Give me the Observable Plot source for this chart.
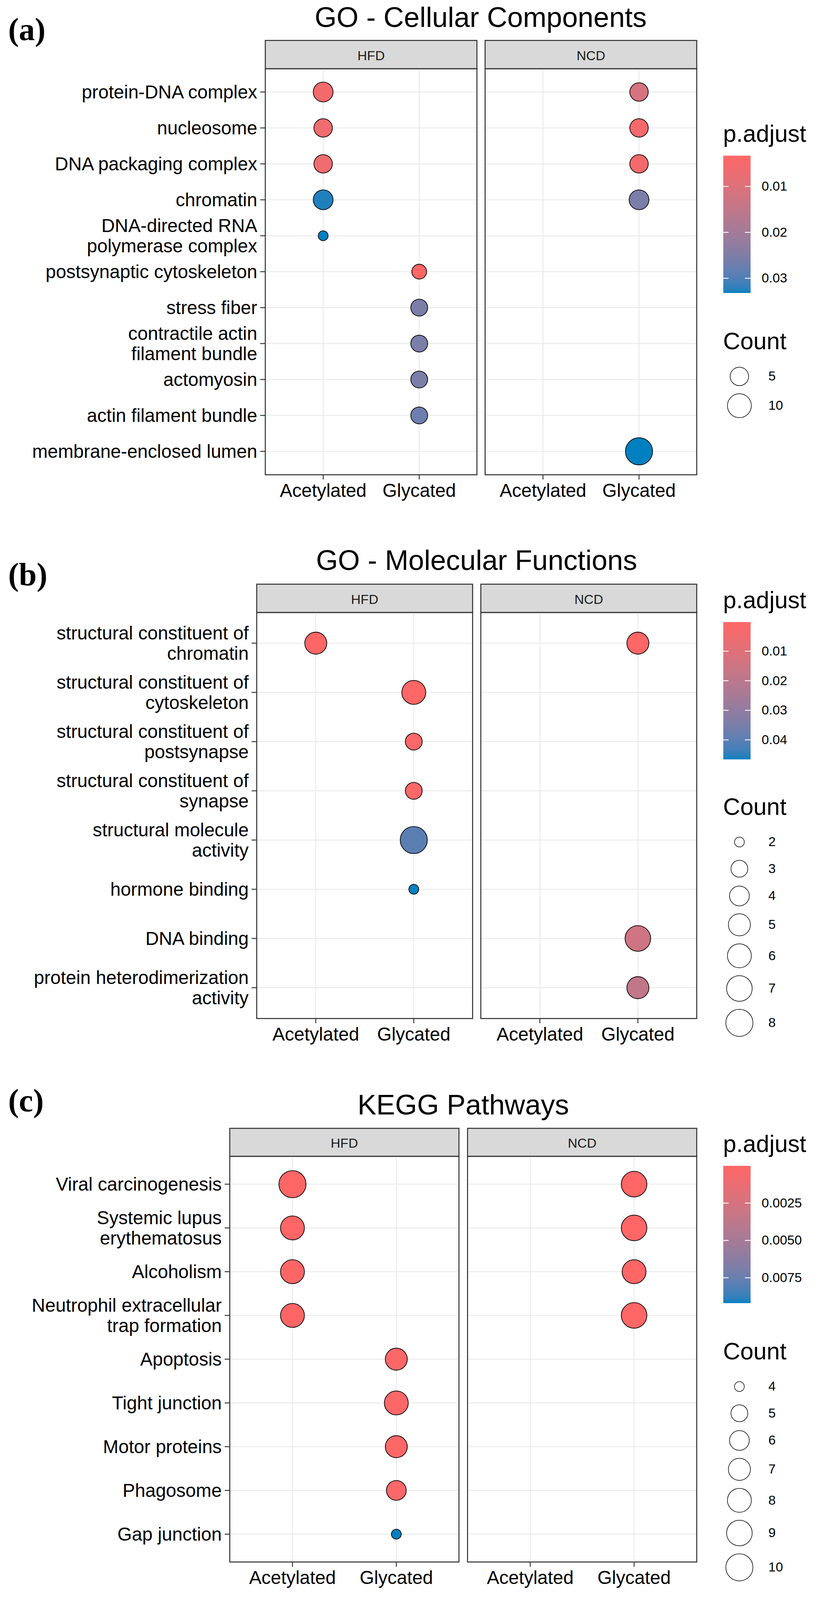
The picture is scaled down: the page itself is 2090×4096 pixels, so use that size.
<!DOCTYPE html>
<html>
<head>
<meta charset="utf-8">
<script src="https://cdn.jsdelivr.net/npm/d3@7"></script>
<script src="https://cdn.jsdelivr.net/npm/@observablehq/plot@0.6"></script>
<style>
  html, body { margin: 0; padding: 0; background: #ffffff; }
  #root { position: relative; width: 2090px; height: 4096px; overflow: hidden; background: #ffffff; }
  #root svg { position: absolute; }
</style>
</head>
<body>
<div id="root"></div>
<script>
// ================= DATA =================
const diets = ["HFD", "NCD"];
const mods = ["Acetylated", "Glycated"];

// ---- (a) GO - Cellular Components
const ccTerms = ["protein-DNA complex", "nucleosome", "DNA packaging complex", "chromatin",
  "DNA-directed RNA polymerase complex", "postsynaptic cytoskeleton", "stress fiber",
  "contractile actin filament bundle", "actomyosin", "actin filament bundle", "membrane-enclosed lumen"];
const ccTickLabels = ["protein-DNA complex", "nucleosome", "DNA packaging complex", "chromatin",
  "DNA-directed RNA\npolymerase complex", "postsynaptic cytoskeleton", "stress fiber",
  "contractile actin\nfilament bundle", "actomyosin", "actin filament bundle", "membrane-enclosed lumen"];
const ccTerm = ["protein-DNA complex", "nucleosome", "DNA packaging complex", "chromatin",
  "DNA-directed RNA polymerase complex", "postsynaptic cytoskeleton", "stress fiber",
  "contractile actin filament bundle", "actomyosin", "actin filament bundle",
  "protein-DNA complex", "nucleosome", "DNA packaging complex", "chromatin", "membrane-enclosed lumen"];
const ccDiet = ["HFD", "HFD", "HFD", "HFD", "HFD", "HFD", "HFD", "HFD", "HFD", "HFD", "NCD", "NCD", "NCD", "NCD", "NCD"];
const ccMod = ["Acetylated", "Acetylated", "Acetylated", "Acetylated", "Acetylated",
  "Glycated", "Glycated", "Glycated", "Glycated", "Glycated", "Glycated", "Glycated", "Glycated", "Glycated", "Glycated"];
const ccCount = [6, 5, 5, 6, 2, 3, 4, 4, 4, 4, 5, 5, 5, 6, 14];
const ccPadj = [0.0057, 0.0063, 0.0063, 0.0326, 0.0332, 0.0033, 0.0257, 0.0257, 0.0257, 0.0272,
  0.0114, 0.0054, 0.0054, 0.0255, 0.0332];
const ccColorTicks = [0.01, 0.02, 0.03];
const ccSizeTicks = [5, 10];

// ---- (b) GO - Molecular Functions
const mfTerms = ["structural constituent of chromatin", "structural constituent of cytoskeleton",
  "structural constituent of postsynapse", "structural constituent of synapse",
  "structural molecule activity", "hormone binding", "DNA binding", "protein heterodimerization activity"];
const mfTickLabels = ["structural constituent of\nchromatin", "structural constituent of\ncytoskeleton",
  "structural constituent of\npostsynapse", "structural constituent of\nsynapse",
  "structural molecule\nactivity", "hormone binding", "DNA binding", "protein heterodimerization\nactivity"];
const mfTerm = ["structural constituent of chromatin", "structural constituent of cytoskeleton",
  "structural constituent of postsynapse", "structural constituent of synapse",
  "structural molecule activity", "hormone binding",
  "structural constituent of chromatin", "DNA binding", "protein heterodimerization activity"];
const mfDiet = ["HFD", "HFD", "HFD", "HFD", "HFD", "HFD", "NCD", "NCD", "NCD"];
const mfMod = ["Acetylated", "Glycated", "Glycated", "Glycated", "Glycated", "Glycated", "Glycated", "Glycated", "Glycated"];
const mfCount = [5, 6, 3, 3, 8, 2, 5, 7, 5];
const mfPadj = [0.00015, 0.0002, 0.0015, 0.0015, 0.040, 0.0466, 0.00016, 0.0146, 0.018];
const mfColorTicks = [0.01, 0.02, 0.03, 0.04];
const mfSizeTicks = [2, 3, 4, 5, 6, 7, 8];

// ---- (c) KEGG Pathways
const kgTerms = ["Viral carcinogenesis", "Systemic lupus erythematosus", "Alcoholism",
  "Neutrophil extracellular trap formation", "Apoptosis", "Tight junction", "Motor proteins",
  "Phagosome", "Gap junction"];
const kgTickLabels = ["Viral carcinogenesis", "Systemic lupus\nerythematosus", "Alcoholism",
  "Neutrophil extracellular\ntrap formation", "Apoptosis", "Tight junction", "Motor proteins",
  "Phagosome", "Gap junction"];
const kgTerm = ["Viral carcinogenesis", "Systemic lupus erythematosus", "Alcoholism",
  "Neutrophil extracellular trap formation", "Apoptosis", "Tight junction", "Motor proteins",
  "Phagosome", "Gap junction",
  "Viral carcinogenesis", "Systemic lupus erythematosus", "Alcoholism", "Neutrophil extracellular trap formation"];
const kgDiet = ["HFD", "HFD", "HFD", "HFD", "HFD", "HFD", "HFD", "HFD", "HFD", "NCD", "NCD", "NCD", "NCD"];
const kgMod = ["Acetylated", "Acetylated", "Acetylated", "Acetylated",
  "Glycated", "Glycated", "Glycated", "Glycated", "Glycated", "Glycated", "Glycated", "Glycated", "Glycated"];
const kgCount = [10, 8, 8, 8, 7, 8, 7, 6, 4, 9, 9, 8, 9];
const kgPadj = [0.00002, 0.00003, 0.00004, 0.00004, 0.0002, 0.0002, 0.0002, 0.0003, 0.0092,
  0.000005, 0.00001, 0.00001, 0.00001];
const kgColorTicks = [0.0025, 0.005, 0.0075];
const kgSizeTicks = [4, 5, 6, 7, 8, 9, 10];

// ================= STYLE / LAYOUT =================
const S = 0.843;
const FONT = '"Liberation Sans", Arial, Helvetica, sans-serif';
const LOW = "#FF6666", HIGH = "#0080C0";
const R_MIN = (32 * S - 1.8) / 2, R_MAX = (84.5 * S - 1.8) / 2;
const AXIS_FS = 47.6, STRIP_FS = 34, TITLE_FS = 72.2, LEG_TITLE_FS = 60.8, LEG_FS = 33.7, LETTER_FS = 82;

// layout in reference pixels (multiplied by S when drawn)
const panels = [
  {letter: "(a)", title: "GO - Cellular Components",
   terms: ccTerms, ticks: ccTickLabels, term: ccTerm, diet: ccDiet, mod: ccMod, count: ccCount, p: ccPadj,
   colorTicks: ccColorTicks, colorFmt: ".2f", sizeTicks: ccSizeTicks,
   L: {stripTop: 122, panelTop: 208, panelBottom: 1441, left: 804, right: 2117, gap: 25,
       titleBase: 82, letterBase: 122, pTitleBase: 431, barTop: 472, barBottom: 889, cTitleBase: 1060}},
  {letter: "(b)", title: "GO - Molecular Functions",
   terms: mfTerms, ticks: mfTickLabels, term: mfTerm, diet: mfDiet, mod: mfMod, count: mfCount, p: mfPadj,
   colorTicks: mfColorTicks, colorFmt: ".2f", sizeTicks: mfSizeTicks,
   L: {stripTop: 1773, panelTop: 1859, panelBottom: 3092, left: 779, right: 2117, gap: 25,
       titleBase: 1731, letterBase: 1777, pTitleBase: 1847, barTop: 1888, barBottom: 2305, cTitleBase: 2475}},
  {letter: "(c)", title: "KEGG Pathways",
   terms: kgTerms, ticks: kgTickLabels, term: kgTerm, diet: kgDiet, mod: kgMod, count: kgCount, p: kgPadj,
   colorTicks: kgColorTicks, colorFmt: ".4f", sizeTicks: kgSizeTicks,
   L: {stripTop: 3426, panelTop: 3511, panelBottom: 4743, left: 698, right: 2117, gap: 26,
       titleBase: 3384, letterBase: 3375, pTitleBase: 3498.5, barTop: 3540, barBottom: 3957, cTitleBase: 4128}}
];
const LEG_LEFT = 2197, BAR_W = 83, BAR_LABEL_X = 2313.5, KEY_CX = 2246, KEY_LABEL_X = 2334;

const root = document.getElementById("root");
const overlay = d3.select(root).append("svg")
  .attr("width", 2090).attr("height", 4096)
  .style("left", "0px").style("top", "0px");

function place(svg, left, top) {
  svg.style.left = left + "px";
  svg.style.top = top + "px";
  root.appendChild(svg);
}

for (const P of panels) {
  const k = v => v * S;
  const L = P.L;
  const rows = P.term.map((t, i) => ({term: t, diet: P.diet[i], mod: P.mod[i], count: P.count[i], p: P.p[i]}));
  const labelOf = new Map(P.terms.map((t, i) => [t, P.ticks[i]]));
  const [pmin, pmax] = d3.extent(rows, d => d.p);
  const [cmin, cmax] = d3.extent(rows, d => d.count);
  const colorOpts = {type: "linear", domain: [pmin, pmax], range: [LOW, HIGH], interpolate: d3.interpolateLab};
  const rOpts = {type: "sqrt", transform: c => c - cmin + 1e-6, domain: [0, cmax - cmin], range: [R_MIN, R_MAX]};

  const left = k(L.left), right = k(L.right), gap = k(L.gap);
  const panelTop = k(L.panelTop), panelBottom = k(L.panelBottom);
  const stripH = panelTop - k(L.stripTop), panelH = panelBottom - panelTop;
  const facetW = (right - left - gap) / 2;
  const mTop = stripH + 4, mBottom = 100;

  const plot = Plot.plot({
    width: 2090, height: mTop + panelH + mBottom,
    marginLeft: left, marginRight: 2090 - right, marginTop: mTop, marginBottom: mBottom,
    style: {fontFamily: FONT, fontSize: AXIS_FS + "px", color: "black", background: "none", overflow: "visible"},
    fx: {domain: diets, paddingInner: gap / (gap + facetW), paddingOuter: 0, axis: null, label: null},
    x: {type: "point", domain: mods, padding: 0.6, label: null},
    y: {type: "point", domain: P.terms, padding: 0.6, label: null},
    r: rOpts,
    color: colorOpts,
    marks: [
      Plot.frame({fill: "#D9D9D9", stroke: "#333333", strokeWidth: 2.6, insetTop: -stripH, insetBottom: panelH}),
      Plot.text(diets, {fx: d => d, text: d => d, frameAnchor: "top", lineAnchor: "middle",
        dy: -stripH / 2 + 3, fontSize: STRIP_FS, fill: "#1A1A1A"}),
      Plot.gridX({stroke: "#EBEBEB", strokeOpacity: 1, strokeWidth: 2.6}),
      Plot.gridY({stroke: "#EBEBEB", strokeOpacity: 1, strokeWidth: 2.6}),
      Plot.frame({stroke: "#333333", strokeWidth: 2.6}),
      Plot.dot(rows, {fx: "diet", x: "mod", y: "term", r: "count", fill: "p", stroke: "black", strokeWidth: 1.8}),
      Plot.axisY({tickFormat: t => labelOf.get(t), fontSize: AXIS_FS, lineHeight: 1.1, tickSize: 12.6,
        tickPadding: 8, stroke: "#333333", strokeWidth: 2.4, fill: "black", label: null}),
      Plot.axisX({fontSize: AXIS_FS, tickSize: 12.6, tickPadding: 10, stroke: "#333333", strokeWidth: 2.4,
        fill: "black", label: null})
    ]
  });
  place(plot, 0, panelTop - mTop);

  // ---- colour bar legend
  const barTop = k(L.barTop), barH = k(L.barBottom) - barTop, barW = k(BAR_W);
  const cbPad = 24, cbRight = 220;
  const colorbar = Plot.plot({
    width: barW + cbRight, height: barH + 2 * cbPad,
    marginLeft: 0, marginRight: cbRight, marginTop: cbPad, marginBottom: cbPad,
    style: {fontFamily: FONT, fontSize: LEG_FS + "px", color: "black", background: "none", overflow: "visible"},
    x: {domain: [0, 1], axis: null},
    y: {domain: [pmin, pmax], reverse: true, axis: null},
    color: colorOpts,
    marks: [
      Plot.raster({x1: 0, x2: 1, y1: pmin, y2: pmax, fill: (x, y) => y, pixelSize: 1}),
      Plot.tickY(P.colorTicks, {y: d => d, stroke: "white", strokeWidth: 2.2, insetRight: barW * 0.8}),
      Plot.tickY(P.colorTicks, {y: d => d, stroke: "white", strokeWidth: 2.2, insetLeft: barW * 0.8}),
      Plot.axisY(P.colorTicks, {anchor: "right", tickSize: 0, tickPadding: k(BAR_LABEL_X) - k(LEG_LEFT) - barW,
        fontSize: LEG_FS, tickFormat: d3.format(P.colorFmt), fill: "black", label: null})
    ]
  });
  place(colorbar, k(LEG_LEFT), barTop - cbPad);

  // ---- size legend
  const rOf = c => d3.scalePow().exponent(0.5).domain([0, cmax - cmin]).range([R_MIN, R_MAX])(c - cmin + 1e-6);
  const keyH = P.sizeTicks.map(c => Math.max(81 * S, 2 * rOf(c) + 1.8 + 22 * S));
  const centers = [];
  let acc = 0;
  keyH.forEach(h => { centers.push(acc + h / 2); acc += h; });
  const keyTop = k(L.cTitleBase + 41.5);
  const legLeft = k(LEG_LEFT);
  const sizeLegend = Plot.plot({
    width: 260, height: acc + 10,
    marginLeft: 0, marginRight: 0, marginTop: 0, marginBottom: 0,
    style: {fontFamily: FONT, fontSize: LEG_FS + "px", color: "black", background: "none", overflow: "visible"},
    x: {type: "identity", axis: null}, y: {type: "identity", axis: null},
    r: rOpts,
    marks: [
      Plot.dot(P.sizeTicks, {x: () => k(KEY_CX) - legLeft, y: (d, i) => centers[i], r: d => d,
        fill: "none", stroke: "black", strokeWidth: 1.5}),
      Plot.text(P.sizeTicks, {x: () => k(KEY_LABEL_X) - legLeft, y: (d, i) => centers[i], text: d => String(d),
        textAnchor: "start", lineAnchor: "middle", fontSize: LEG_FS, fill: "black"})
    ]
  });
  place(sizeLegend, legLeft, keyTop);

  // ---- texts
  overlay.append("text").attr("x", k(25)).attr("y", k(L.letterBase))
    .attr("font-family", '"Liberation Serif", "Times New Roman", serif').attr("font-weight", "bold")
    .attr("font-size", LETTER_FS).attr("fill", "black").text(P.letter);
  overlay.append("text").attr("x", (left + right) / 2).attr("y", k(L.titleBase))
    .attr("text-anchor", "middle").attr("font-family", FONT).attr("font-size", TITLE_FS)
    .attr("fill", "black").text(P.title);
  overlay.append("text").attr("x", legLeft).attr("y", k(L.pTitleBase))
    .attr("font-family", FONT).attr("font-size", LEG_TITLE_FS).attr("fill", "black").text("p.adjust");
  overlay.append("text").attr("x", legLeft).attr("y", k(L.cTitleBase))
    .attr("font-family", FONT).attr("font-size", LEG_TITLE_FS).attr("fill", "black").text("Count");
}
</script>
</body>
</html>
